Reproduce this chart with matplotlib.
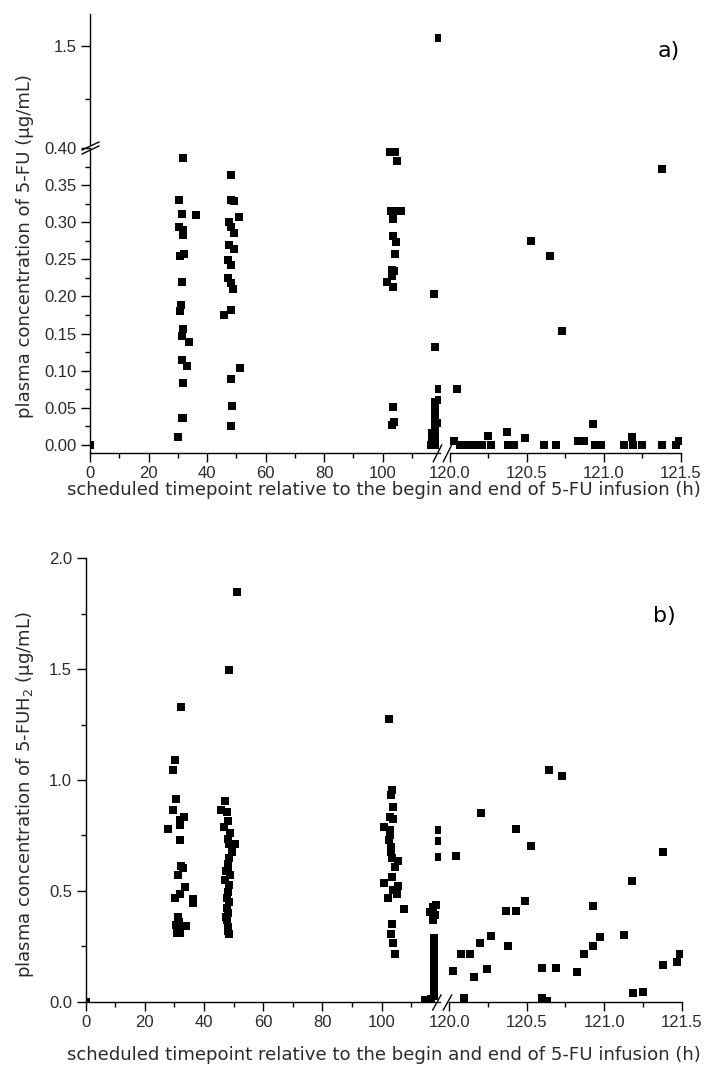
import matplotlib
matplotlib.use("Agg")
import matplotlib.pyplot as plt
from matplotlib.lines import Line2D
from matplotlib.ticker import MultipleLocator, FormatStrFormatter

plt.rcParams['font.family'] = ['Liberation Sans', 'DejaVu Sans']
plt.rcParams['mathtext.default'] = 'regular'

W, H = 706, 1065
TXT = '#2b2b2b'

# ---- panel a) 5-FU, 0-120 h segment (h, ug/mL)
fu_left_t = [0,
             31.7, 30.4, 31.5, 36.3, 30.5, 31.7, 31.9, 30.7, 32.2, 31.4, 31.2, 30.7, 31.7, 31.4,
             33.9, 31.4, 33.0, 31.9, 31.4, 31.9, 30.2,
             48.1, 48.1, 49.3, 50.8, 47.4, 48.1, 49.3, 47.6, 49.2, 47.1, 48.1, 47.1, 48.1, 48.8,
             48.1, 45.9, 51.3, 48.1, 48.6, 48.1,
             102.5, 104.2, 105.0, 102.8, 104.8, 106.3, 103.4, 103.6, 104.5, 104.2, 103.1, 103.9,
             103.3, 101.4, 103.4, 103.4, 103.9, 103.3,
             117.5, 117.9, 119.3, 117.9, 117.9, 117.9, 117.9, 117.9, 117.9, 117.9, 116.9, 117.9,
             116.8, 117.9, 116.5, 117.9, 119.3, 119.3, 119.3]
fu_left_c = [0.0,
             0.387, 0.330, 0.311, 0.310, 0.294, 0.290, 0.283, 0.255, 0.257, 0.219, 0.189, 0.180,
             0.156, 0.147, 0.139, 0.115, 0.106, 0.084, 0.037, 0.036, 0.011,
             0.363, 0.330, 0.328, 0.307, 0.301, 0.294, 0.286, 0.270, 0.264, 0.249, 0.243, 0.225,
             0.218, 0.210, 0.182, 0.175, 0.104, 0.089, 0.053, 0.025,
             0.394, 0.394, 0.382, 0.315, 0.315, 0.315, 0.304, 0.281, 0.274, 0.257, 0.236, 0.234,
             0.227, 0.219, 0.213, 0.051, 0.031, 0.027,
             0.204, 0.132, 0.075, 0.058, 0.050, 0.042, 0.034, 0.027, 0.020, 0.013, 0.016, 0.006,
             0.008, 0.0, 0.0, 0.045, 0.060, 0.030, 1.538]

# ---- panel a) 5-FU, 120-121.5 h segment
fu_right_t = [120.045, 120.03, 120.07, 120.12, 120.17, 120.21, 120.25, 120.27, 120.37, 120.38,
              120.42, 120.49, 120.53, 120.65, 120.61, 120.69, 120.73, 120.835, 120.87, 120.93,
              120.94, 120.98, 121.13, 121.18, 121.19, 121.25, 121.38, 121.38, 121.47, 121.49]
fu_right_c = [0.076, 0.005, 0.0, 0.0, 0.0, 0.0, 0.012, 0.0, 0.018, 0.0,
              0.0, 0.010, 0.275, 0.254, 0.0, 0.0, 0.153, 0.006, 0.006, 0.028,
              0.0, 0.0, 0.0, 0.011, 0.0, 0.0, 0.0, 0.372, 0.0, 0.006]

# ---- panel b) 5-FUH2, 0-120 h segment
fuh2_left_t = [0,
               32.2, 30.3, 29.5, 30.4, 29.6, 27.9, 31.9, 33.3, 31.9, 31.9, 32.1, 32.8, 31.1, 33.5,
               31.9, 30.2, 36.1, 36.1, 31.3, 31.6, 30.4, 33.9, 31.9, 30.7, 31.9,
               51.2, 48.4, 47.1, 45.7, 47.6, 48.2, 46.7, 48.8, 48.2, 50.4, 48.5, 49.3, 48.2, 47.4,
               48.8, 47.1, 48.5, 48.2, 48.5, 47.6, 48.2, 47.8, 48.2, 48.5, 47.8, 48.0, 48.3, 48.0,
               47.5,
               102.5, 103.4, 103.0, 103.7, 102.8, 103.7, 100.8, 102.8, 102.6, 103.1, 103.6, 105.6,
               104.5, 103.4, 100.9, 105.6, 103.9, 105.3, 102.2, 107.5, 103.4, 103.0, 103.9, 104.5,
               103.2, 102.9,
               119.3, 119.3, 119.3, 118.3, 117.2, 116.4, 118.0, 117.3,
               117.8, 117.8, 117.8, 117.8, 117.8, 117.8, 117.8, 117.8, 117.8, 117.8, 117.8, 117.8,
               117.8, 117.8, 114.8, 116.8]
fuh2_left_c = [0.0,
               1.329, 1.089, 1.044, 0.913, 0.863, 0.781, 0.818, 0.833, 0.799, 0.731, 0.611, 0.605,
               0.571, 0.518, 0.488, 0.466, 0.461, 0.446, 0.383, 0.360, 0.345, 0.342, 0.331, 0.308,
               0.308,
               1.847, 1.497, 0.905, 0.863, 0.856, 0.815, 0.788, 0.759, 0.736, 0.710, 0.710, 0.676,
               0.623, 0.590, 0.571, 0.548, 0.526, 0.495, 0.450, 0.421, 0.398, 0.368, 0.338, 0.305,
               0.470, 0.600, 0.650, 0.320, 0.380,
               1.273, 0.954, 0.931, 0.878, 0.833, 0.822, 0.788, 0.773, 0.731, 0.676, 0.646, 0.634,
               0.608, 0.563, 0.536, 0.521, 0.503, 0.484, 0.466, 0.418, 0.350, 0.305, 0.263, 0.214,
               0.700, 0.750,
               0.773, 0.725, 0.653, 0.436, 0.428, 0.405, 0.390, 0.368,
               0.287, 0.265, 0.245, 0.225, 0.205, 0.185, 0.165, 0.145, 0.125, 0.105, 0.085, 0.065,
               0.045, 0.025, 0.008, 0.010]

# ---- panel b) 5-FUH2, 120-121.5 h segment
fuh2_right_t = [120.044, 120.027, 120.095, 120.074, 120.134, 120.162, 120.199, 120.242, 120.268,
                120.207, 120.366, 120.429, 120.381, 120.429, 120.489, 120.528, 120.597, 120.597,
                120.633, 120.646, 120.73, 120.689, 120.826, 120.870, 120.93, 120.973, 120.93,
                121.13, 121.18, 121.188, 121.25, 121.377, 121.38, 121.47, 121.49]
fuh2_right_c = [0.658, 0.140, 0.018, 0.214, 0.214, 0.113, 0.266, 0.146, 0.296,
                0.849, 0.410, 0.410, 0.252, 0.781, 0.455, 0.701, 0.150, 0.015,
                0.005, 1.044, 1.018, 0.150, 0.135, 0.215, 0.252, 0.290, 0.432,
                0.300, 0.544, 0.038, 0.045, 0.165, 0.676, 0.180, 0.215]

xlabel = 'scheduled timepoint relative to the begin and end of 5-FU infusion (h)'
ylabel_a = 'plasma concentration of 5-FU (µg/mL)'
ylabel_b = 'plasma concentration of 5-FUH$_2$ (µg/mL)'

fig = plt.figure(figsize=(W / 100, H / 100), dpi=100)


def px_rect(l, t, r, b):
    return [l / W, 1 - b / H, (r - l) / W, (b - t) / H]


def style(ax, spines):
    for s in ['left', 'right', 'top', 'bottom']:
        ax.spines[s].set_visible(s in spines)
        ax.spines[s].set_linewidth(1.0)
    ax.tick_params(which='both', direction='out', width=1.0, labelcolor=TXT, labelsize=12,
                   top=False, right=False,
                   left='left' in spines, labelleft='left' in spines,
                   bottom='bottom' in spines, labelbottom='bottom' in spines)
    ax.tick_params(which='major', length=6.2, pad=3.5)
    ax.tick_params(which='minor', length=3.3)
    ax.patch.set_visible(False)


def dots(ax, t, c):
    ax.plot(t, c, 's', color='black', ms=5.6, mew=0, clip_on=True)


def slash(x0, y0, x1, y1):
    fig.add_artist(Line2D([x0 / W, x1 / W], [1 - y0 / H, 1 - y1 / H],
                          transform=fig.transFigure, color='black', lw=1.0))


# ================= panel a =================
a_lo = fig.add_axes(px_rect(90, 148, 439.8, 453))
a_hi = fig.add_axes(px_rect(90, 14, 439.8, 144))
a_r = fig.add_axes(px_rect(449.7, 148, 681, 453))

for ax in (a_lo, a_hi):
    dots(ax, fu_left_t, fu_left_c)
    ax.set_xlim(0, 119.55)
dots(a_r, fu_right_t, fu_right_c)
a_r.set_xlim(120.0, 121.5)

a_lo.set_ylim(-0.0108, 0.40)
a_r.set_ylim(-0.0108, 0.40)
a_hi.set_ylim(1.038, 1.651)

style(a_lo, ['left', 'bottom'])
style(a_hi, ['left'])
style(a_r, ['bottom'])

a_lo.yaxis.set_major_locator(MultipleLocator(0.05))
a_lo.yaxis.set_minor_locator(MultipleLocator(0.025))
a_lo.yaxis.set_major_formatter(FormatStrFormatter('%.2f'))
a_hi.yaxis.set_major_locator(MultipleLocator(0.5))
a_hi.yaxis.set_minor_locator(MultipleLocator(0.25))
a_hi.yaxis.set_major_formatter(FormatStrFormatter('%.1f'))
a_hi.set_xticks([])

a_lo.xaxis.set_major_locator(MultipleLocator(20))
a_lo.xaxis.set_minor_locator(MultipleLocator(10))
a_r.xaxis.set_major_locator(MultipleLocator(0.5))
a_r.xaxis.set_minor_locator(MultipleLocator(0.25))
a_r.xaxis.set_major_formatter(FormatStrFormatter('%.1f'))

slash(433.3, 461.7, 441.7, 445)
slash(443.3, 461.7, 451.7, 445)
slash(82, 150, 99, 142)
slash(82, 154, 99, 146)

fig.text(25 / W, 1 - 246.5 / H, ylabel_a, rotation=90, ha='center', va='center',
         family='DejaVu Sans', fontsize=13.1, color=TXT)
fig.text(383.5 / W, 1 - 495 / H, xlabel, ha='center', va='baseline',
         family='DejaVu Sans', fontsize=13.1, color=TXT)
fig.text(669 / W, 1 - 51 / H, 'a)', ha='center', va='center',
         family='DejaVu Sans', fontsize=16, color='black')

# ================= panel b =================
b_l = fig.add_axes(px_rect(85.7, 558.3, 440, 1001.7))
b_r = fig.add_axes(px_rect(449.2, 558.3, 681.7, 1001.7))

dots(b_l, fuh2_left_t, fuh2_left_c)
dots(b_r, fuh2_right_t, fuh2_right_c)
b_l.set_xlim(0, 119.7)
b_r.set_xlim(120.0, 121.5)
b_l.set_ylim(0, 2.0)
b_r.set_ylim(0, 2.0)

style(b_l, ['left', 'bottom'])
style(b_r, ['bottom'])

b_l.yaxis.set_major_locator(MultipleLocator(0.5))
b_l.yaxis.set_minor_locator(MultipleLocator(0.25))
b_l.yaxis.set_major_formatter(FormatStrFormatter('%.1f'))
b_l.xaxis.set_major_locator(MultipleLocator(20))
b_l.xaxis.set_minor_locator(MultipleLocator(10))
b_r.xaxis.set_major_locator(MultipleLocator(0.5))
b_r.xaxis.set_minor_locator(MultipleLocator(0.25))
b_r.xaxis.set_major_formatter(FormatStrFormatter('%.1f'))

slash(432.7, 1010, 441, 995)
slash(443.3, 1010, 451.7, 995)

fig.text(25 / W, 1 - 794 / H, ylabel_b, rotation=90, ha='center', va='center',
         family='DejaVu Sans', fontsize=13.1, color=TXT)
fig.text(383.5 / W, 1 - 1060 / H, xlabel, ha='center', va='baseline',
         family='DejaVu Sans', fontsize=13.1, color=TXT)
fig.text(664 / W, 1 - 616 / H, 'b)', ha='center', va='center',
         family='DejaVu Sans', fontsize=16, color='black')

fig.savefig('out.png', dpi=100)
